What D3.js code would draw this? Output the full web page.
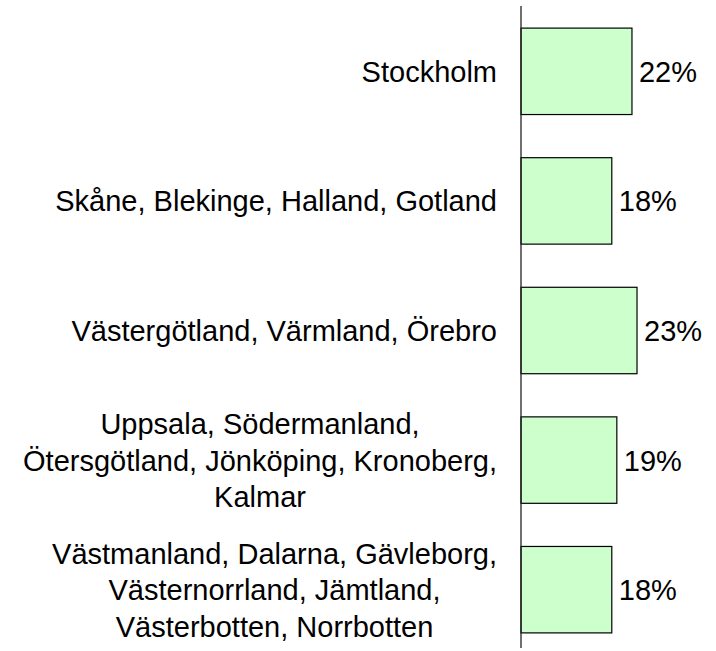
<!DOCTYPE html>
<html><head><meta charset="utf-8">
<script src="https://cdn.jsdelivr.net/npm/d3@7"></script>
<style>body{margin:0;background:#fff}svg{display:block}</style>
</head><body>
<svg id="c" width="716" height="651"></svg>
<script>
const categories = [
  ["Stockholm"],
  ["Skåne, Blekinge, Halland, Gotland"],
  ["Västergötland, Värmland, Örebro"],
  ["Uppsala, Södermanland,", "Ötersgötland, Jönköping, Kronoberg,", "Kalmar"],
  ["Västmanland, Dalarna, Gävleborg,", "Västernorrland, Jämtland,", "Västerbotten, Norrbotten"]
];
const values = [22, 18, 23, 19, 18];
const valueLabels = ["22%", "18%", "23%", "19%", "18%"];

const svg = d3.select("#c");
const font = "'Liberation Sans', Arial, sans-serif";
const fs = 29;
const x0 = 521;
const x = d3.scaleLinear().domain([0, 25]).range([x0, x0 + 126.1]);
const keys = categories.map((d, i) => i);
const y = d3.scaleBand().domain(keys).range([6.5, 654.5]).paddingInner(0.333).paddingOuter(0.1667);

svg.selectAll("rect.bar").data(values).join("rect")
  .attr("class", "bar")
  .attr("x", x(0))
  .attr("y", (d, i) => y(i))
  .attr("width", d => x(d) - x(0))
  .attr("height", y.bandwidth())
  .attr("fill", "#CCFFCC")
  .attr("stroke", "#000")
  .attr("stroke-width", 1.2);

// axis
const axis = d3.axisLeft(y).tickSize(0).tickFormat("");
const ag = svg.append("g").attr("transform", `translate(${x0},0)`).call(axis);
ag.select(".domain").attr("stroke", "#222").attr("stroke-width", 1.3).attr("d", `M0,6V648`);

// value labels
svg.selectAll("text.val").data(values).join("text")
  .attr("class", "val")
  .attr("x", d => x(d) + 7)
  .attr("y", (d, i) => y(i) + y.bandwidth() / 2 + 10.5)
  .attr("font-family", font).attr("font-size", fs).attr("fill", "#000")
  .text((d, i) => valueLabels[i]);

// category labels
const right = 497;
const lh = 36.5;
categories.forEach((lines, i) => {
  const g = svg.append("g");
  const texts = lines.map((l, j) => g.append("text")
    .attr("font-family", font).attr("font-size", fs).attr("fill", "#000")
    .attr("text-anchor", "middle")
    .attr("y", y(i) + y.bandwidth() / 2 + 10.5 + (j - (lines.length - 1) / 2) * lh)
    .text(l));
  const maxW = d3.max(texts, t => t.node().getComputedTextLength());
  texts.forEach(t => t.attr("x", right - maxW / 2));
});
</script>
</body></html>
